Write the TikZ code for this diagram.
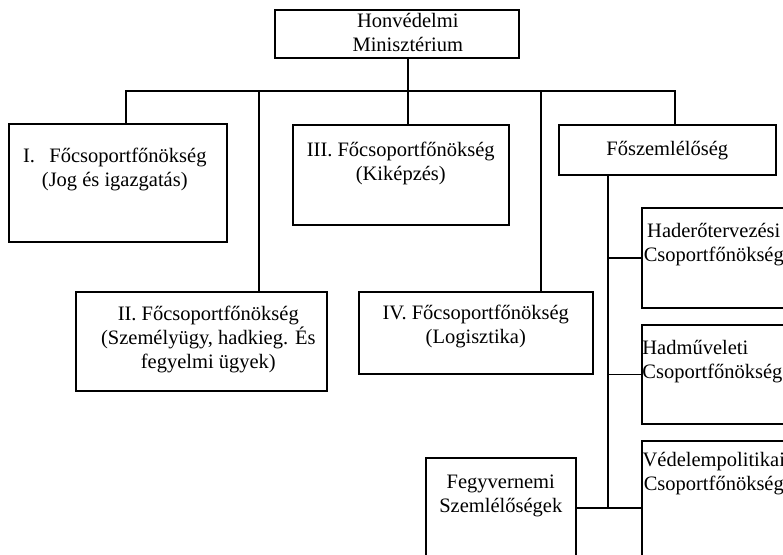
\documentclass[tikz,border=0pt]{standalone}
\usepackage{fontspec}
\setmainfont{Liberation Serif}
\newcommand\unitfont{\fontsize{10.25pt}{12pt}\selectfont}

\begin{document}
\begin{tikzpicture}
    [x=0.5pt, y=-0.5pt,
    unit/.style 2 args={draw, line width=0.8pt, inner sep=0pt, anchor=north west,
        minimum width=#1, minimum height=#2},
    unit text/.style={align=center, inner sep=0pt, anchor=north, font=\unitfont},
    link/.style={line width=0.8pt}
    ]
    \clip (0,0) rectangle (783,554);

    \node (hm) [unit={122pt}{24pt},
        label={[unit text, xshift=5.5pt, yshift=-1.75pt]north:{Honvédelmi\\Minisztérium}}]
        at (274,9) {};

    \node (g1) [unit={109pt}{59pt},
        label={[unit text, xshift=-1.5pt, yshift=-12.5pt]north:{I.\hspace{0.7em}Főcsoportfőnökség\\(Jog és igazgatás)}}]
        at (8,123) {};
    \node (g3) [unit={108pt}{50pt},
        label={[unit text, yshift=-9pt]north:{III. Főcsoportfőnökség\\(Kiképzés)}}]
        at (292,124) {};
    \node (fo) [unit={108.5pt}{25pt},
        label={[unit text, yshift=-8.5pt]north:{Főszemlélőség}}]
        at (558,124) {};
    \node (g2) [unit={125.5pt}{49.5pt},
        label={[unit text, xshift=3.5pt, yshift=-7.5pt]north:{II. Főcsoportfőnökség\\(Személyügy, hadkieg. És\\fegyelmi ügyek)}}]
        at (75,291) {};
    \node (g4) [unit={117pt}{41pt},
        label={[unit text, yshift=-7pt]north:{IV. Főcsoportfőnökség\\(Logisztika)}}]
        at (358,291) {};

    \node (had) [unit={72pt}{50pt},
        label={[unit text, yshift=-8pt]north:{Haderőtervezési\\Csoportfőnökség}}]
        at (641,207) {};
    \node (hadm) [unit={72pt}{49.5pt},
        label={[unit text, anchor=north west, align=left, xshift=0.5pt, yshift=-8pt]north west:{Hadműveleti\\Csoportfőnökség}}]
        at (641,324) {};
    \node (ved) [unit={72pt}{67pt},
        label={[unit text, yshift=-6pt]north:{Védelempolitikai\\Csoportfőnökség}}]
        at (641,440) {};
    \node (fegy) [unit={75pt}{50pt},
        label={[unit text, yshift=-9pt]north:{Fegyvernemi\\Szemlélőségek}}]
        at (425,457) {};

    \coordinate (bus1) at (126,91);
    \coordinate (bus2) at (259,91);
    \coordinate (bus3) at (408,91);
    \coordinate (bus4) at (541,91);
    \coordinate (bus5) at (675,91);
    \coordinate (trunk) at (608,507);

    \draw [link] (hm.south -| bus3) -- (bus3 |- g3.north);
    \draw [link] (bus1 |- g1.north) -- (bus1) -- (bus5) -- (bus5 |- fo.north);
    \draw [link] (bus2) -- (bus2 |- g2.north);
    \draw [link] (bus4) -- (bus4 |- g4.north);

    \draw [link] (fo.south -| trunk) -- (trunk);
    \draw [link] (had.west) -- (had.west -| trunk);
    \draw [link] (hadm.west) -- (hadm.west -| trunk);
    \draw [link] (fegy.east) -- (ved.west);
\end{tikzpicture}
\end{document}
